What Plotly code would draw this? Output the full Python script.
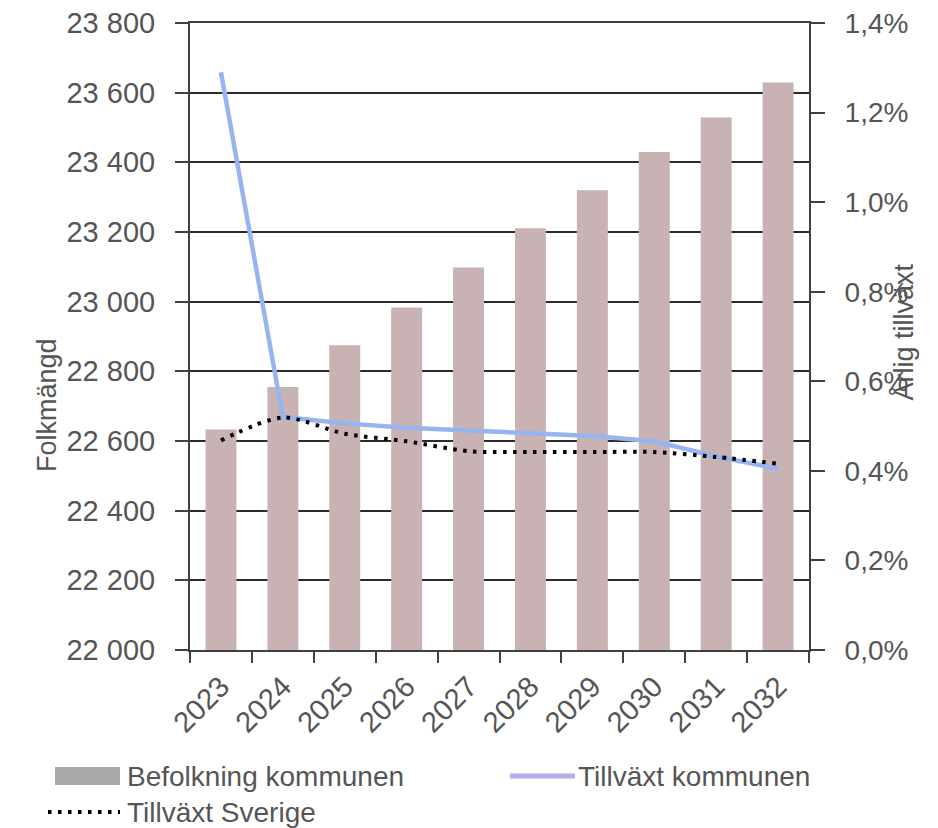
import plotly.graph_objects as go

# data
years = ["2023", "2024", "2025", "2026", "2027", "2028", "2029", "2030", "2031", "2032"]
befolkning = [22633, 22755, 22875, 22983, 23098, 23211, 23320, 23430, 23529, 23629]
tillvaxt_kommun = [1.29, 0.52, 0.506, 0.496, 0.49, 0.485, 0.478, 0.466, 0.432, 0.405]
tillvaxt_sverige = [0.468, 0.519, 0.483, 0.466, 0.444, 0.442, 0.442, 0.442, 0.431, 0.416]

FONT = "Liberation Sans, Arial, sans-serif"
GREY = "#555555"
AXIS = "#404040"

# the page body has an 8px margin, so the figure is drawn 8px in from the corner
OFF = 8
W, H = 938 - OFF, 828 - OFF
# plot area in page pixels
L, R, T, B = 190, 809, 23, 650
def px(x):
    return (x - L) / (R - L)
def py(y):
    return (B - y) / (B - T)

fig = go.Figure()
fig.add_trace(go.Bar(x=years, y=befolkning, name="Befolkning kommunen",
                     marker=dict(color="#c9b2b3", line=dict(width=0))))
fig.add_trace(go.Scatter(x=years, y=tillvaxt_kommun, name="Tillväxt kommunen", yaxis="y2",
                         mode="lines", line=dict(color="#96b4f0", width=4.5)))
fig.add_trace(go.Scatter(x=years, y=tillvaxt_sverige, name="Tillväxt Sverige", yaxis="y2",
                         mode="lines", line=dict(color="#000000", width=4, dash="3.5px,6.5px",
                                                 shape="spline", smoothing=0.8)))

fig.update_layout(
    width=W, height=H,
    margin=dict(l=L - OFF, r=W - (R - OFF), t=T - OFF, b=H - (B - OFF)),
    plot_bgcolor="white", paper_bgcolor="white",
    separators=", ",
    showlegend=False,
    bargap=0.5,
    font=dict(family=FONT, color=GREY, size=29),
    xaxis=dict(type="category", tickson="boundaries", ticks="outside", ticklen=11,
               tickwidth=1.5, tickcolor=AXIS, tickangle=-45, automargin=False,
               ticklabelstandoff=6, mirror=True,
               showline=True, linecolor=AXIS, linewidth=2, showgrid=False,
               tickfont=dict(family=FONT, size=29, color=GREY)),
    yaxis=dict(range=[22000, 23800], dtick=200, tickformat=",d", automargin=False,
               ticks="outside", ticklen=13, tickwidth=1.5, tickcolor=AXIS,
               ticklabelstandoff=14, ticklabeloverflow="allow",
               showline=True, linecolor=AXIS, linewidth=2,
               showgrid=True, gridcolor="#2a2a2a", gridwidth=1.5, zeroline=False,
               tickfont=dict(family=FONT, size=29, color=GREY)),
    yaxis2=dict(range=[0, 1.4], dtick=0.2, tickformat=".1f", ticksuffix="%",
                overlaying="y", side="right", automargin=False,
                ticks="outside", ticklen=14, tickwidth=1.5, tickcolor=AXIS,
                ticklabelstandoff=14, ticklabeloverflow="allow",
                showline=True, linecolor=AXIS, linewidth=2,
                showgrid=False, zeroline=False,
                tickfont=dict(family=FONT, size=28, color=GREY)),
)

# axis titles
fig.add_annotation(text="Folkmängd", x=px(30), y=py(405), xref="paper", yref="paper",
                   textangle=-90, showarrow=False, font=dict(family=FONT, size=27, color=GREY))
fig.add_annotation(text="Årlig tillväxt", x=px(920), y=py(332), xref="paper", yref="paper",
                   textangle=-90, showarrow=False, font=dict(family=FONT, size=27, color=GREY))

# legend drawn by hand to match the wide swatches
fig.add_shape(type="rect", xref="paper", yref="paper", x0=px(55), x1=px(120), y0=py(785), y1=py(767),
              fillcolor="#a9a9a9", line=dict(width=0))
fig.add_shape(type="line", xref="paper", yref="paper", x0=px(510), x1=px(575), y0=py(776), y1=py(776),
              line=dict(color="#b3acf0", width=5))
fig.add_shape(type="line", xref="paper", yref="paper", x0=px(48), x1=px(120), y0=py(812), y1=py(812),
              line=dict(color="#000000", width=4, dash="3.5px,6.5px"))
for label, x, y in [("Befolkning kommunen", 125, 776), ("Tillväxt kommunen", 576, 776),
                    ("Tillväxt Sverige", 125, 812)]:
    fig.add_annotation(text=label, x=px(x), y=py(y), xref="paper", yref="paper",
                       xanchor="left", yanchor="middle", showarrow=False,
                       font=dict(family=FONT, size=28, color=GREY))

fig.write_html("out.html")
